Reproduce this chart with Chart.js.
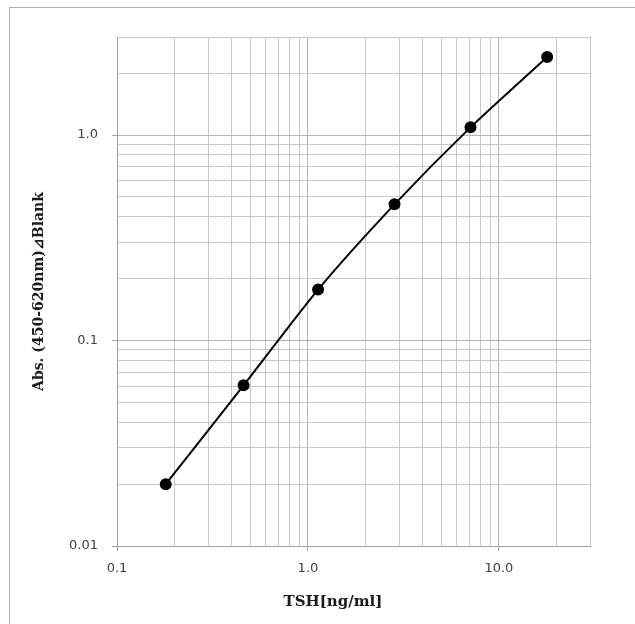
<!DOCTYPE html>
<html>
<head>
<meta charset="utf-8">
<script src="https://cdn.jsdelivr.net/npm/chart.js@4"></script>
<style>
  html, body { margin: 0; padding: 0; background: #fff; }
  #wrap { width: 635px; height: 624px; }
</style>
</head>
<body>
<div id="wrap"><canvas id="c" width="635" height="624"></canvas></div>
<script>
// ---- data ----
const tshValues = [0.18, 0.46, 1.13, 2.84, 7.1, 17.9];       // TSH [ng/ml]
const absValues = [0.020, 0.0605, 0.177, 0.46, 1.09, 2.40]; // Abs. (450-620nm) minus blank
const xTickValues = [0.1, 1, 10];
const xTickLabels = ['0.1', '1.0', '10.0'];
const yTickValues = [0.01, 0.1, 1];
const yTickLabels = ['0.01', '0.1', '1.0'];
const xRange = [0.1, 30];
const yRange = [0.01, 3];
const xTitle = 'TSH[ng/ml]';
const yTitle = 'Abs. (450-620nm)\u22BFBlank';

function findLabel(values, labels, v) {
  for (let i = 0; i < values.length; i++) {
    if (Math.abs(values[i] - v) / values[i] < 1e-6) return labels[i];
  }
  return '';
}
function isLabeled(values, v) {
  return findLabel(values, values.map(String), v) !== '';
}
// grid positions 1..9 x 10^k inside a range (log paper)
function logGrid(min, max) {
  const out = [];
  for (let e = Math.floor(Math.log10(min)); e <= Math.ceil(Math.log10(max)); e++) {
    for (let m = 1; m <= 9; m++) {
      const v = parseFloat((m * Math.pow(10, e)).toPrecision(6));
      if (v >= min * (1 - 1e-9) && v <= max * (1 + 1e-9)) out.push(v);
    }
  }
  return out;
}

const points = tshValues.map((x, i) => ({ x: x, y: absValues[i] }));

const frame = {
  id: 'frame',
  beforeDraw(chart) {
    const ctx = chart.ctx;
    ctx.save();
    ctx.fillStyle = '#ffffff';
    ctx.fillRect(0, 0, chart.width, chart.height);
    ctx.strokeStyle = '#b0b0b0';
    ctx.lineWidth = 1;
    ctx.strokeRect(9.5, 7.5, 800, 800);
    ctx.restore();
  },
  afterDraw(chart) {
    const ctx = chart.ctx;
    ctx.save();
    ctx.fillStyle = '#1a1a1a';
    ctx.font = 'bold 15px "DejaVu Serif"';
    ctx.textAlign = 'center';
    ctx.textBaseline = 'middle';
    ctx.fillText(xTitle, 333, 602);
    ctx.restore();
  }
};

const gridColor = '#c8c8c8';
const axisColor = '#a0a0a0';
const tickFont = { family: '"DejaVu Sans"', size: 13 };

new Chart(document.getElementById('c'), {
  type: 'line',
  data: {
    datasets: [{
      data: points,
      borderColor: '#000000',
      backgroundColor: '#000000',
      borderWidth: 2,
      pointRadius: 5,
      pointHoverRadius: 5,
      pointBackgroundColor: '#000000',
      pointBorderColor: '#000000',
      tension: 0.25,
      fill: false
    }]
  },
  options: {
    responsive: false,
    animation: false,
    events: [],
    layout: { padding: { top: 37, right: 45, left: 0, bottom: 0 } },
    plugins: { legend: { display: false }, tooltip: { enabled: false } },
    scales: {
      x: {
        type: 'logarithmic',
        min: xRange[0],
        max: xRange[1],
        afterBuildTicks: (s) => { s.ticks = logGrid(xRange[0], xRange[1]).map(v => ({ value: v })); },
        border: { color: axisColor, width: 1 },
        grid: {
          color: (ctx) => (ctx.tick && isLabeled(xTickValues, ctx.tick.value)) ? '#b4b4b4' : gridColor,
          lineWidth: 1,
          tickLength: 5,
          tickColor: (ctx) => (ctx.tick && isLabeled(xTickValues, ctx.tick.value)) ? axisColor : 'rgba(0,0,0,0)'
        },
        ticks: {
          autoSkip: false,
          maxRotation: 0,
          padding: 10,
          color: '#404040',
          font: tickFont,
          callback: (v) => findLabel(xTickValues, xTickLabels, v)
        },
        afterFit: (s) => { s.height = 78; }
      },
      y: {
        type: 'logarithmic',
        min: yRange[0],
        max: yRange[1],
        afterBuildTicks: (s) => { s.ticks = logGrid(yRange[0], yRange[1]).map(v => ({ value: v })); },
        border: { color: axisColor, width: 1 },
        grid: {
          color: (ctx) => (ctx.tick && isLabeled(yTickValues, ctx.tick.value)) ? '#b4b4b4' : gridColor,
          lineWidth: 1,
          tickLength: 5,
          tickColor: (ctx) => (ctx.tick && isLabeled(yTickValues, ctx.tick.value)) ? axisColor : 'rgba(0,0,0,0)'
        },
        ticks: {
          autoSkip: false,
          padding: 14,
          color: '#404040',
          font: tickFont,
          callback: (v) => findLabel(yTickValues, yTickLabels, v)
        },
        title: {
          display: true,
          text: yTitle,
          color: '#1a1a1a',
          font: { family: '"DejaVu Serif"', size: 14, weight: 'bold' },
          padding: { top: 31, bottom: 0 }
        },
        afterFit: (s) => { s.width = 117; }
      }
    }
  },
  plugins: [frame]
});
</script>
</body>
</html>
